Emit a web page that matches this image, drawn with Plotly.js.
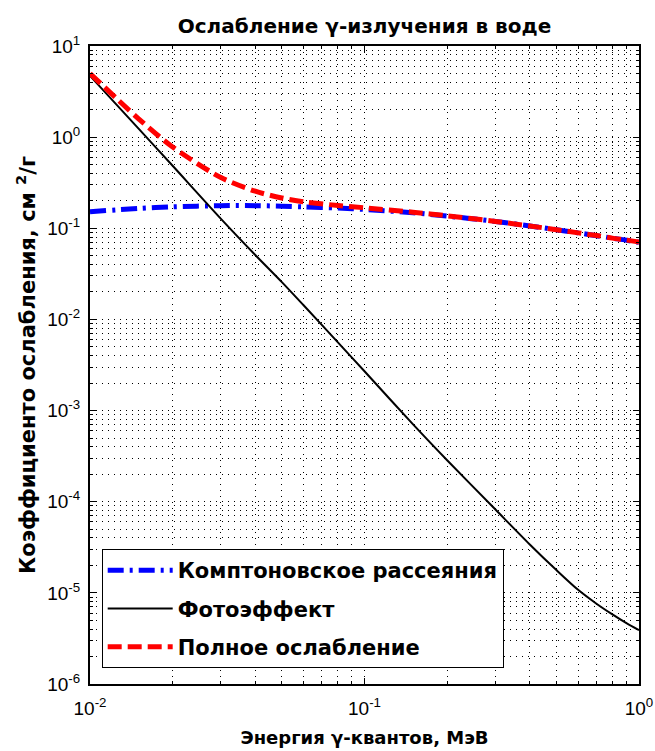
<!DOCTYPE html>
<html>
<head>
<meta charset="utf-8">
<script src="https://cdn.plot.ly/plotly-3.0.1.min.js"></script>
<style>html,body{margin:0;padding:0;background:#fff;}#chart{width:655px;height:751px;}</style>
</head>
<body>
<div id="chart"></div>
<script>
// Energy of gamma quanta, MeV
const energy = [0.01, 0.015, 0.02, 0.03, 0.04, 0.05, 0.06, 0.08, 0.1, 0.15, 0.2, 0.3, 0.4, 0.5, 0.6, 0.7, 0.8, 0.9, 1.0];
// Compton scattering coefficient, cm^2/g
const compton = [0.152, 0.165, 0.172, 0.177, 0.177, 0.175, 0.172, 0.167, 0.161, 0.148, 0.136, 0.119, 0.106, 0.0965, 0.089, 0.083, 0.078, 0.074, 0.070];
// Photoeffect coefficient, cm^2/g
const photo = [4.7, 1.25, 0.485, 0.127, 0.051, 0.0257, 0.0143, 0.0056, 0.0027, 7.1e-4, 2.85e-4, 8.2e-5, 3.4e-5, 1.78e-5, 1.08e-5, 7.6e-6, 5.8e-6, 4.65e-6, 3.9e-6];
// Total attenuation, cm^2/g
const total = [5.0, 1.6, 0.78, 0.36, 0.255, 0.215, 0.195, 0.178, 0.168, 0.150, 0.137, 0.119, 0.106, 0.0965, 0.089, 0.0835, 0.078, 0.0742, 0.0705];

const seriesNames = ['Комптоновское рассеяния', 'Фотоэффект', 'Полное ослабление'];
const xTickVals = [0.01, 0.1, 1];
const xTickText = ['10<sup>-2</sup>', '10<sup>-1</sup>', '10<sup>0</sup>'];
const yTickVals = [1e-6, 1e-5, 1e-4, 1e-3, 1e-2, 1e-1, 1, 10];
const yTickText = ['10<sup>-6</sup>', '10<sup>-5</sup>', '10<sup>-4</sup>', '10<sup>-3</sup>', '10<sup>-2</sup>', '10<sup>-1</sup>', '10<sup>0</sup>', '10<sup>1</sup>'];

function minorVals(lo, hi) {
  const v = [];
  for (let e = lo; e < hi; e++) for (let m = 2; m <= 9; m++) v.push(m * Math.pow(10, e));
  return v;
}

const FONT = 'Liberation Sans, Arial, sans-serif';
const BOLD = 'DejaVu Sans, sans-serif';

const traces = [
  {x: energy, y: compton, name: seriesNames[0], mode: 'lines', legendgroup: 'a',
   line: {color: '#0000ff', width: 5, dash: '16px,6px,3px,6px', shape: 'spline', smoothing: 0.8}},
  {x: energy, y: photo, name: seriesNames[1], mode: 'lines', legendgroup: 'b',
   line: {color: '#000000', width: 2, shape: 'spline', smoothing: 0.8}},
  {x: energy, y: total, name: seriesNames[2], mode: 'lines', legendgroup: 'c',
   line: {color: '#ff0000', width: 5, dash: '14px,6px', shape: 'spline', smoothing: 0.8}}
];

const gridStyle = {gridcolor: '#000', gridwidth: 1, griddash: '1px,5px'};

const layout = {
  width: 655, height: 751,
  margin: {l: 90, r: 16, t: 46, b: 67, pad: 0},
  paper_bgcolor: '#fff', plot_bgcolor: '#fff',
  title: {text: 'Ослабление γ-излучения в воде', font: {family: BOLD, size: 20, color: '#000', weight: 'bold'},
          x: 0.5, xref: 'paper', y: 1 - 26/751, yref: 'container', yanchor: 'middle'},
  showlegend: true,
  legend: {x: 0.0213, y: 0.2116, xanchor: 'left', yanchor: 'top', bgcolor: '#fff', bordercolor: '#000', borderwidth: 1,
           font: {family: BOLD, size: 21, color: '#000', weight: 'bold'}, tracegroupgap: 8, itemwidth: 65, traceorder: 'grouped'},
  xaxis: Object.assign({
    type: 'log', range: [-2, 0], tickmode: 'array', tickvals: xTickVals, ticktext: xTickText,
    showline: true, linecolor: '#000', linewidth: 2, mirror: 'allticks', ticks: 'inside', ticklen: 6, tickcolor: '#000',
    ticklabelstandoff: 6,
    showgrid: true, zeroline: false, tickfont: {family: FONT, size: 19, color: '#000'},
    title: {text: 'Энергия γ-квантов, МэВ', font: {family: BOLD, size: 18, color: '#000', weight: 'bold'}, standoff: 14},
    minor: Object.assign({tickmode: 'array', tickvals: minorVals(-2, 0), ticks: 'inside', ticklen: 3, tickcolor: '#000', showgrid: true}, gridStyle)
  }, gridStyle),
  yaxis: Object.assign({
    type: 'log', range: [-6, 1], tickmode: 'array', tickvals: yTickVals, ticktext: yTickText,
    showline: true, linecolor: '#000', linewidth: 2, mirror: 'allticks', ticks: 'inside', ticklen: 6, tickcolor: '#000',
    ticklabelstandoff: 4,
    showgrid: true, zeroline: false, tickfont: {family: FONT, size: 19, color: '#000'},
    title: {text: 'Коэффициенто ослабления, см <sup>2</sup>/г', font: {family: BOLD, size: 21, color: '#000', weight: 'bold'}, standoff: 6},
    minor: Object.assign({tickmode: 'array', tickvals: minorVals(-6, 1), ticks: 'inside', ticklen: 3, tickcolor: '#000', showgrid: true}, gridStyle)
  }, gridStyle)
};

Plotly.newPlot('chart', traces, layout, {displayModeBar: false, staticPlot: true});
</script>
</body>
</html>
